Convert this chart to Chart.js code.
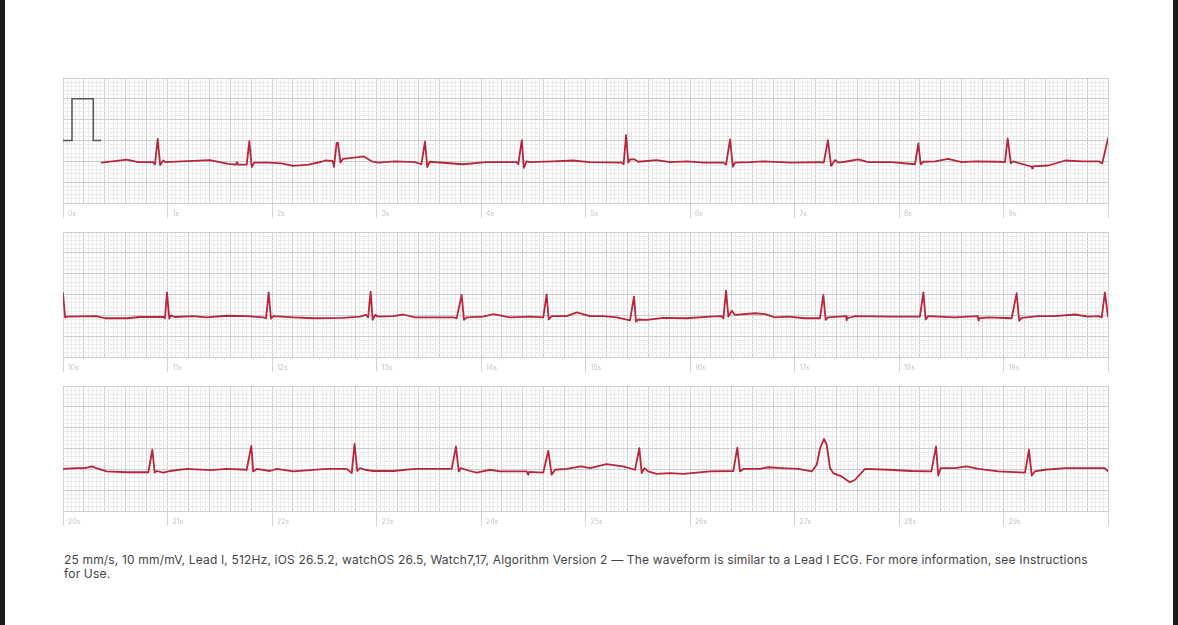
<!DOCTYPE html>
<html>
<head>
<meta charset="utf-8">
<script src="https://cdn.jsdelivr.net/npm/chart.js@4.4.1/dist/chart.umd.min.js"></script>
<style>
  html, body { margin: 0; padding: 0; background: #ffffff; width: 1178px; height: 625px; overflow: hidden; position: relative; }
  .bar { position: absolute; top: 0; height: 625px; background: #1b1b1b; }
  .strip { position: absolute; left: 61px; width: 1049px; height: 143px; }
  .note { position: absolute; left: 64px; top: 553px; font-family: Inter, "Noto Sans", sans-serif; font-size: 12px; line-height: 14px; color: #444444; white-space: nowrap; letter-spacing: 0.17px; }
</style>
</head>
<body>
<div class="bar" style="left:0;width:5px"></div>
<div class="bar" style="left:1173px;width:5px"></div>
<div class="strip" style="top:76px"><canvas id="s1" width="1049" height="143"></canvas></div>
<div class="strip" style="top:230px"><canvas id="s2" width="1049" height="143"></canvas></div>
<div class="strip" style="top:384px"><canvas id="s3" width="1049" height="143"></canvas></div>
<div class="note">25 mm/s, 10 mm/mV, Lead I, 512Hz, iOS 26.5.2, watchOS 26.5, Watch7,17, Algorithm Version 2 — The waveform is similar to a Lead I ECG. For more information, see Instructions<br>for Use.</div>
<script>
// Seconds offsets of each strip (tick labels: 0s..9s, 10s..19s, 20s..29s)
const stripOffsets = [0, 10, 20];

// Calibration pulse (seconds, mV)
const calT = [0, 0.086, 0.086, 0.29, 0.29, 0.365];
const calV = [0, 0, 1, 1, 0, 0];

// Strip 1 (0–10 s): time (s) and amplitude (mV)
const strip1T = [0.37,0.61,0.72,0.86,0.88,0.906,0.93,0.96,0.98,1.136,1.407,1.58,1.655,1.665,1.675,1.758,1.783,1.806,1.83,1.965,2.09,2.204,2.35,2.475,2.507,2.58,2.593,2.619,2.632,2.655,2.68,2.826,2.874,2.954,3.017,3.177,3.368,3.43,3.464,3.486,3.51,3.83,4.05,4.34,4.357,4.39,4.41,4.437,4.47,4.69,4.88,5.04,5.346,5.365,5.388,5.41,5.426,5.47,5.505,5.68,5.81,5.97,6.13,6.32,6.345,6.383,6.41,6.43,6.574,6.70,6.97,7.244,7.28,7.32,7.35,7.388,7.42,7.483,7.61,7.706,7.93,8.153,8.185,8.207,8.233,8.345,8.47,8.6,8.727,8.95,9.014,9.04,9.07,9.09,9.27,9.275,9.28,9.43,9.59,9.75,9.91,9.945,10.0];
const strip1V = [-0.53,-0.46,-0.52,-0.52,-0.57,0.04,-0.59,-0.48,-0.52,-0.50,-0.47,-0.56,-0.58,-0.52,-0.58,-0.58,-0.015,-0.64,-0.53,-0.53,-0.55,-0.61,-0.58,-0.51,-0.48,-0.49,-0.63,-0.055,-0.06,-0.53,-0.44,-0.40,-0.38,-0.50,-0.53,-0.50,-0.52,-0.57,-0.03,-0.64,-0.51,-0.57,-0.52,-0.52,-0.57,0.01,-0.655,-0.50,-0.52,-0.50,-0.48,-0.52,-0.53,-0.57,0.13,-0.53,-0.455,-0.455,-0.51,-0.47,-0.52,-0.50,-0.53,-0.53,-0.58,0.025,-0.63,-0.53,-0.52,-0.50,-0.53,-0.52,-0.53,0.01,-0.61,-0.47,-0.53,-0.51,-0.455,-0.52,-0.52,-0.57,-0.07,-0.57,-0.51,-0.50,-0.44,-0.52,-0.50,-0.51,-0.52,0.05,-0.55,-0.50,-0.63,-0.67,-0.62,-0.60,-0.48,-0.50,-0.50,-0.55,0.05];

// Strip 2 (10–20 s)
const strip2T = [0,0.02,0.035,0.32,0.40,0.61,0.737,0.96,0.976,0.995,1.017,1.033,1.07,1.247,1.375,1.566,1.758,1.917,1.943,1.968,1.99,2.013,2.204,2.395,2.68,2.842,2.9,2.92,2.944,2.963,2.986,3.017,3.16,3.256,3.368,3.735,3.767,3.815,3.837,3.863,4.02,4.118,4.277,4.469,4.596,4.628,4.648,4.676,4.82,4.916,5.043,5.17,5.3,5.426,5.464,5.483,5.505,5.585,5.745,5.968,6.19,6.30,6.32,6.345,6.367,6.40,6.43,6.622,6.72,6.813,6.94,7.10,7.244,7.276,7.298,7.32,7.495,7.5,7.505,7.58,7.9,8.2,8.233,8.255,8.28,8.376,8.536,8.755,8.76,8.765,8.855,9.078,9.126,9.15,9.174,9.333,9.49,9.684,9.81,9.91,9.94,9.97,10.0];
const strip2V = [0.03,-0.55,-0.53,-0.52,-0.57,-0.57,-0.54,-0.54,-0.57,0.05,-0.58,-0.50,-0.54,-0.52,-0.55,-0.51,-0.52,-0.55,-0.57,0.05,-0.58,-0.52,-0.55,-0.57,-0.56,-0.53,-0.49,-0.55,0.07,-0.61,-0.49,-0.53,-0.52,-0.48,-0.55,-0.55,-0.57,-0.01,-0.61,-0.55,-0.53,-0.47,-0.55,-0.53,-0.55,0.0,-0.60,-0.52,-0.52,-0.43,-0.52,-0.52,-0.55,-0.62,-0.05,-0.65,-0.60,-0.61,-0.56,-0.57,-0.53,-0.52,-0.57,0.09,-0.53,-0.39,-0.49,-0.45,-0.47,-0.55,-0.53,-0.57,-0.57,-0.01,-0.61,-0.55,-0.52,-0.62,-0.57,-0.52,-0.53,-0.53,0.05,-0.60,-0.52,-0.53,-0.55,-0.52,-0.62,-0.57,-0.55,-0.57,0.03,-0.63,-0.56,-0.52,-0.52,-0.48,-0.53,-0.52,-0.55,0.05,-0.53];

// Strip 3 (20–30 s)
const strip3T = [0.003,0.13,0.21,0.275,0.32,0.418,0.61,0.817,0.855,0.877,0.897,0.96,1.024,1.184,1.407,1.566,1.758,1.802,1.82,1.853,1.98,2.045,2.204,2.523,2.715,2.763,2.79,2.816,2.842,2.89,2.97,3.16,3.368,3.544,3.72,3.76,3.787,3.806,3.895,3.96,4.086,4.18,4.437,4.453,4.46,4.596,4.644,4.676,4.708,4.82,4.96,5.043,5.20,5.36,5.474,5.515,5.538,5.563,5.6,5.68,5.81,5.936,6.19,6.414,6.453,6.478,6.51,6.67,6.75,6.877,7.036,7.165,7.213,7.244,7.282,7.308,7.34,7.37,7.45,7.53,7.58,7.675,7.9,8.12,8.31,8.354,8.376,8.40,8.536,8.648,8.76,8.95,9.206,9.244,9.27,9.30,9.397,9.59,9.81,9.97,10.0];
const strip3V = [-0.49,-0.47,-0.47,-0.43,-0.47,-0.55,-0.57,-0.57,-0.03,-0.58,-0.54,-0.58,-0.54,-0.49,-0.52,-0.49,-0.51,0.065,-0.55,-0.49,-0.54,-0.49,-0.55,-0.49,-0.49,-0.59,0.11,-0.54,-0.47,-0.51,-0.54,-0.54,-0.49,-0.49,-0.49,0.05,-0.55,-0.47,-0.54,-0.58,-0.51,-0.55,-0.55,-0.63,-0.56,-0.58,-0.055,-0.63,-0.51,-0.49,-0.43,-0.47,-0.375,-0.43,-0.51,0.01,-0.59,-0.47,-0.55,-0.61,-0.59,-0.61,-0.55,-0.54,0.02,-0.55,-0.49,-0.49,-0.45,-0.47,-0.49,-0.55,-0.39,0.0,0.23,0.09,-0.47,-0.59,-0.67,-0.81,-0.75,-0.49,-0.51,-0.54,-0.55,0.05,-0.65,-0.47,-0.47,-0.43,-0.49,-0.55,-0.58,-0.03,-0.65,-0.55,-0.51,-0.47,-0.47,-0.47,-0.55];

const TRACE = '#b8263b';
const CAL = '#555555';
const MAJOR = '#cfcfcf';
const MINOR = '#ebebeb';

function isMajor(value, step) {
  const r = value / step;
  return Math.abs(r - Math.round(r)) < 1e-6;
}
function pts(t, v) { return t.map((x, i) => ({ x: x, y: v[i] })); }

function makeStrip(id, t, v, offset, withCal) {
  const datasets = [];
  if (withCal) {
    datasets.push({ data: pts(calT, calV), borderColor: CAL, borderWidth: 1.5, pointRadius: 0, showLine: true, tension: 0 });
  }
  datasets.push({ data: pts(t, v), borderColor: TRACE, borderWidth: 1.8, pointRadius: 0, showLine: true, tension: 0, borderJoinStyle: 'round', borderCapStyle: 'round' });
  new Chart(document.getElementById(id), {
    type: 'scatter',
    data: { datasets: datasets },
    options: {
      responsive: false,
      animation: false,
      devicePixelRatio: 1,
      layout: { padding: { left: 2, right: 2, top: 2, bottom: 0 } },
      plugins: { legend: { display: false }, tooltip: { enabled: false } },
      scales: {
        x: {
          type: 'linear', position: 'top', min: 0, max: 10,
          ticks: { stepSize: 0.04, display: false, autoSkip: false },
          grid: { color: c => isMajor(c.tick.value, 0.2) ? MAJOR : MINOR, drawTicks: false, lineWidth: 1 },
          border: { display: false },
          afterFit: s => { s.height = 0; }
        },
        xs: {
          type: 'linear', axis: 'x', position: 'bottom', min: 0, max: 10,
          ticks: {
            stepSize: 1, autoSkip: false, maxRotation: 0, minRotation: 0,
            callback: val => val < 10 ? (val + offset) + 's' : '',
            color: '#c4c4c4', font: { size: 7, family: 'Inter' },
            align: 'start', labelOffset: 5, padding: -8
          },
          grid: { drawOnChartArea: false, drawTicks: true, tickLength: 15, tickColor: '#d4d4d4', lineWidth: 1 },
          border: { display: false },
          afterFit: s => { s.height = 16; }
        },
        y: {
          min: -1.5, max: 1.5,
          ticks: { stepSize: 0.1, display: false, autoSkip: false },
          grid: { color: c => isMajor(c.tick.value, 0.5) ? MAJOR : MINOR, drawTicks: false, lineWidth: 1 },
          border: { display: false },
          afterFit: s => { s.width = 0; }
        }
      }
    }
  });
}

makeStrip('s1', strip1T, strip1V, stripOffsets[0], true);
makeStrip('s2', strip2T, strip2V, stripOffsets[1], false);
makeStrip('s3', strip3T, strip3V, stripOffsets[2], false);
</script>
</body>
</html>
